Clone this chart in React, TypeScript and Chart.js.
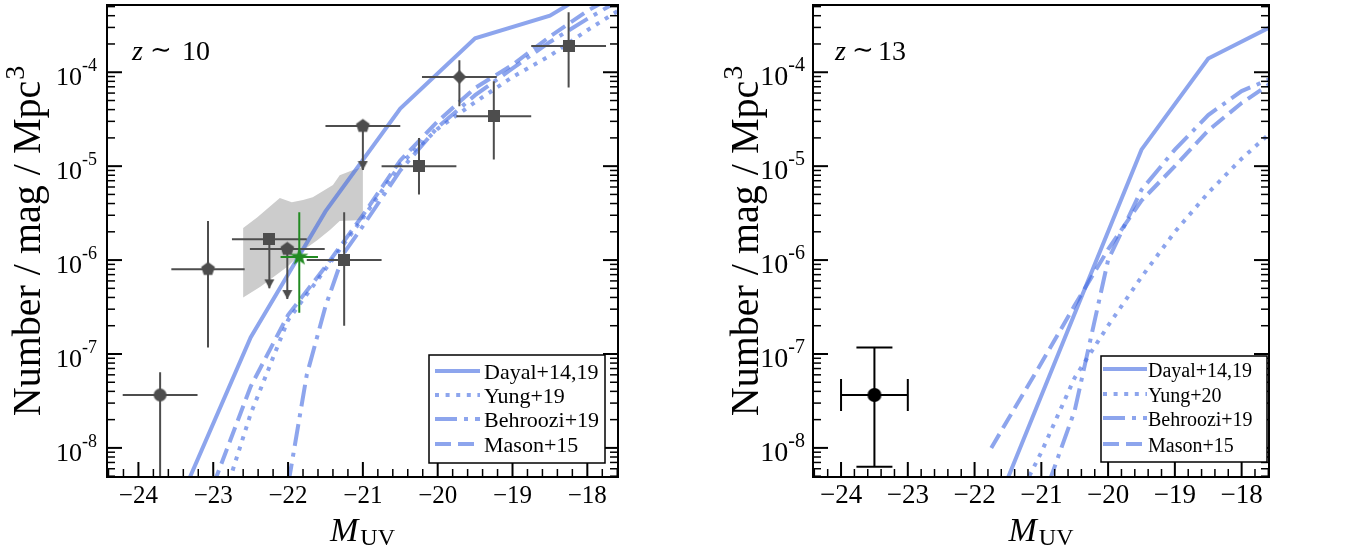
import React, { useEffect, useRef } from "react";
import { Chart, registerables } from "chart.js";
Chart.register(...registerables);

const FONT = '"Liberation Serif", "Times New Roman", Times, "DejaVu Serif", serif';
const BLUE = "rgba(65,105,225,0.6)";
const DARK = "#4d4d4d";
const GREEN = "#228b22";
const BAND = "#cccccc";

const X_MIN = -24.42;
const X_MAX = -17.59;
const Y_MIN = 4.9e-9;
const Y_MAX = 5.2e-4;

const xTickValues = [-24, -23, -22, -21, -20, -19, -18];
const xTickLabels = ["−24", "−23", "−22", "−21", "−20", "−19", "−18"];
const yTickValues = [1e-8, 1e-7, 1e-6, 1e-5, 1e-4];
const yTickExponents = ["-8", "-7", "-6", "-5", "-4"];

const legendZ10 = ["Dayal+14,19", "Yung+19", "Behroozi+19", "Mason+15"];
const legendZ13 = ["Dayal+14,19", "Yung+20", "Behroozi+19", "Mason+15"];
const DASHES: number[][] = [[], [4, 6.6], [22, 7, 4, 7], [16, 7]];

// ---------- z ~ 10 models ----------
const dayalZ10M = [-23.5, -22.5, -21.5, -20.5, -19.5, -18.5, -17.5];
const dayalZ10 = [2.2e-9, 1.5e-7, 3.3e-6, 4.1e-5, 2.3e-4, 4.0e-4, 1.2e-3];
const yungZ10M = [-23.0, -22.5, -22.0, -21.5, -21.0, -20.5, -20.0, -19.5, -19.0, -18.5, -18.0, -17.5];
const yungZ10 = [1.3e-9, 2.3e-8, 2.3e-7, 8.0e-7, 2.8e-6, 1.05e-5, 2.5e-5, 4.8e-5, 8.9e-5, 1.5e-4, 2.8e-4, 5.0e-4];
const behrooziZ10M = [-22.0, -21.75, -21.5, -21.25, -21.0, -20.5, -20.0, -19.5, -19.0, -18.5, -18.0, -17.5];
const behrooziZ10 = [4.0e-9, 6.0e-8, 3.2e-7, 1.2e-6, 2.3e-6, 9.0e-6, 2.6e-5, 5.7e-5, 1.1e-4, 2.1e-4, 3.7e-4, 6.3e-4];
const masonZ10M = [-23.0, -22.5, -22.0, -21.5, -21.0, -20.5, -20.0, -19.5, -19.0, -18.5, -18.0, -17.5];
const masonZ10 = [4.0e-9, 4.5e-8, 2.6e-7, 8.5e-7, 3.0e-6, 1.15e-5, 3.0e-5, 6.8e-5, 1.2e-4, 2.4e-4, 4.5e-4, 7.5e-4];

// ---------- z ~ 10 observations ----------
const bandUpperM = [-22.6, -22.41, -22.11, -21.95, -21.8, -21.67, -21.4, -21.31, -21.13, -21.0];
const bandUpper = [2.19e-6, 2.86e-6, 4.57e-6, 4.14e-6, 4.36e-6, 4.68e-6, 6.3e-6, 8.0e-6, 9.1e-6, 9.8e-6];
const bandLowerM = [-21.0, -21.31, -21.44, -21.61, -21.75, -22.01, -22.37, -22.6];
const bandLower = [2.67e-6, 2.6e-6, 2.09e-6, 1.63e-6, 1.35e-6, 8.5e-7, 5.2e-7, 4.0e-7];

const circM = [-23.71];
const circPhi = [3.66e-8];
const circLo = [1.0e-9];
const circHi = [6.4e-8];
const circDx = [0.5];

const pentM = [-23.07];
const pentPhi = [8.0e-7];
const pentLo = [1.17e-7];
const pentHi = [2.6e-6];
const pentDx = [0.49];

const pentUlM = [-22.01, -21.0];
const pentUlPhi = [1.31e-6, 2.67e-5];
const pentUlTip = [3.85e-7, 9.1e-6];
const pentUlDx = [0.5, 0.5];

const sqM = [-21.25, -20.25, -19.25, -18.25];
const sqPhi = [1.0e-6, 1.0e-5, 3.4e-5, 1.9e-4];
const sqLo = [2.0e-7, 5.0e-6, 1.18e-5, 6.9e-5];
const sqHi = [3.24e-6, 2.0e-5, 8.0e-5, 4.35e-4];
const sqDx = [0.5, 0.5, 0.5, 0.5];

const sqUlM = [-22.25];
const sqUlPhi = [1.67e-6];
const sqUlTip = [5.0e-7];
const sqUlDx = [0.5];

const diaM = [-19.71];
const diaPhi = [8.9e-5];
const diaLo = [4.35e-5];
const diaHi = [1.34e-4];
const diaDx = [0.5];

const starM = [-21.85];
const starPhi = [1.08e-6];
const starLo = [2.75e-7];
const starHi = [3.24e-6];
const starDx = [0.25];

// ---------- z ~ 13 models ----------
const dayalZ13M = [-21.5, -20.5, -19.5, -18.5, -17.5];
const dayalZ13 = [4.8e-9, 2.7e-7, 1.5e-5, 1.4e-4, 3.2e-4];
const yungZ13M = [-21.25, -21.0, -20.5, -20.0, -19.5, -19.0, -18.5, -18.0, -17.5];
const yungZ13 = [4.0e-9, 9.0e-9, 5.6e-8, 2.0e-7, 6.6e-7, 2.0e-6, 5.2e-6, 1.2e-5, 2.5e-5];
const behrooziZ13M = [-20.9, -20.5, -20.0, -19.5, -19.0, -18.5, -18.0, -17.5];
const behrooziZ13 = [4.0e-9, 2.5e-8, 1.0e-6, 5.6e-6, 1.5e-5, 3.5e-5, 6.3e-5, 8.9e-5];
const masonZ13M = [-21.75, -21.0, -20.5, -20.0, -19.5, -19.0, -18.5, -18.0, -17.5];
const masonZ13 = [1.0e-8, 8.0e-8, 3.3e-7, 1.3e-6, 4.3e-6, 1.0e-5, 2.4e-5, 4.7e-5, 8.2e-5];

// ---------- z ~ 13 observation ----------
const obsZ13M = [-23.5];
const obsZ13Phi = [3.66e-8];
const obsZ13Lo = [6.3e-9];
const obsZ13Hi = [1.17e-7];
const obsZ13Dx = [0.5];

type Pt = { x: number; y: number | null };

function pts(xs: number[], ys: number[]): Pt[] {
  return xs.map((x, i) => ({ x, y: ys[i] }));
}
function hSegs(ms: number[], ys: number[], dx: number[]): Pt[] {
  const out: Pt[] = [];
  ms.forEach((m, i) => {
    out.push({ x: m - dx[i], y: ys[i] }, { x: m + dx[i], y: ys[i] }, { x: m, y: null });
  });
  return out;
}
function vSegs(ms: number[], lo: number[], hi: number[]): Pt[] {
  const out: Pt[] = [];
  ms.forEach((m, i) => {
    out.push({ x: m, y: lo[i] }, { x: m, y: hi[i] }, { x: m, y: null });
  });
  return out;
}

function mk(w: number, h: number, draw: (g: CanvasRenderingContext2D) => void) {
  const c = document.createElement("canvas");
  c.width = w;
  c.height = h;
  draw(c.getContext("2d")!);
  return c;
}
function polyImg(R: number, n: number, color: string, inner = 0) {
  const s = Math.ceil(2 * R + 2);
  return mk(s, s, (g) => {
    g.fillStyle = color;
    g.beginPath();
    const cx = s / 2, cy = s / 2;
    const count = inner > 0 ? n * 2 : n;
    for (let k = 0; k < count; k++) {
      const ang = -Math.PI / 2 + (k * 2 * Math.PI) / count;
      const r = inner > 0 && k % 2 === 1 ? R * inner : R;
      const px = cx + r * Math.cos(ang), py = cy + r * Math.sin(ang);
      if (k === 0) g.moveTo(px, py);
      else g.lineTo(px, py);
    }
    g.closePath();
    g.fill();
  });
}
function squareImg(s: number, color: string) {
  return mk(s, s, (g) => {
    g.fillStyle = color;
    g.fillRect(0, 0, s, s);
  });
}
function circleImg(r: number, color: string) {
  const s = Math.ceil(2 * r + 2);
  return mk(s, s, (g) => {
    g.fillStyle = color;
    g.beginPath();
    g.arc(s / 2, s / 2, r, 0, Math.PI * 2);
    g.fill();
  });
}
function arrowImg(color: string) {
  return mk(11, 20, (g) => {
    g.fillStyle = color;
    g.beginPath();
    g.moveTo(0.5, 1);
    g.lineTo(10.5, 1);
    g.lineTo(5.5, 10);
    g.closePath();
    g.fill();
  });
}

function modelLine(xs: number[], ys: number[], dash: number[]) {
  return {
    data: pts(xs, ys),
    showLine: true,
    borderColor: BLUE,
    borderWidth: 4,
    borderDash: dash,
    borderCapStyle: "butt",
    pointRadius: 0,
    fill: false,
    tension: 0,
    order: 50,
    clip: 0,
  };
}
function segs(data: Pt[], color: string, width: number, order: number) {
  return {
    data,
    showLine: true,
    borderColor: color,
    borderWidth: width,
    pointRadius: 0,
    spanGaps: false,
    fill: false,
    order,
    clip: 0,
  };
}
function markers(data: Pt[], img: any, order: number) {
  return {
    data,
    showLine: false,
    pointStyle: img,
    pointRadius: 6,
    order,
    clip: false,
  };
}
function caps(data: Pt[], rotation: number, radius: number, order: number) {
  return {
    data,
    showLine: false,
    pointStyle: "line",
    pointRotation: rotation,
    pointRadius: radius,
    pointBorderWidth: 2,
    pointBorderColor: "#000",
    order,
    clip: false,
  };
}

type Overlay = {
  xTickFont: number;
  yTickFont: number;
  ySupFont: number;
  yTickGap: number;
  yLabelX: number;
  zText: string[];
  zX: number[];
  legendLabels: string[];
  legendBox: [number, number, number, number];
  legendHandle: [number, number];
  legendTextX: number;
  legendRows: number[];
  legendFont: number;
};

function overlayPlugin(o: Overlay) {
  return {
    id: "overlay",
    afterDraw(chart: any) {
      const ctx: CanvasRenderingContext2D = chart.ctx;
      const a = chart.chartArea;
      const xs = chart.scales.x;
      const ys = chart.scales.y;
      ctx.save();
      ctx.strokeStyle = "#000";
      ctx.fillStyle = "#000";
      ctx.setLineDash([]);
      const seg = (x1: number, y1: number, x2: number, y2: number, w: number) => {
        ctx.lineWidth = w;
        ctx.beginPath();
        ctx.moveTo(x1, y1);
        ctx.lineTo(x2, y2);
        ctx.stroke();
      };
      // x ticks (major + minor every 0.2 mag)
      for (let i = Math.ceil(X_MIN * 5); i <= Math.floor(X_MAX * 5); i++) {
        const px = xs.getPixelForValue(i / 5);
        const major = i % 5 === 0;
        seg(px, a.bottom, px, a.bottom - (major ? 15 : 8), major ? 2 : 1.5);
      }
      // y ticks (log, left + right)
      for (let d = -9; d <= -3; d++) {
        for (let k = 1; k <= 9; k++) {
          const v = k * Math.pow(10, d);
          if (v < Y_MIN || v > Y_MAX) continue;
          const py = ys.getPixelForValue(v);
          const L = k === 1 ? 15 : 8;
          const w = k === 1 ? 2 : 1.5;
          seg(a.left, py, a.left + L, py, w);
          seg(a.right, py, a.right - L, py, w);
        }
      }
      // frame
      ctx.lineWidth = 2;
      ctx.strokeRect(a.left, a.top, a.right - a.left, a.bottom - a.top);

      // x tick labels
      ctx.font = `${o.xTickFont}px ${FONT}`;
      ctx.textAlign = "center";
      ctx.textBaseline = "alphabetic";
      xTickValues.forEach((v, i) => {
        ctx.fillText(xTickLabels[i], xs.getPixelForValue(v), 503);
      });
      // y tick labels 10^n
      ctx.textAlign = "left";
      yTickValues.forEach((v, i) => {
        const py = ys.getPixelForValue(v);
        ctx.font = `${o.yTickFont}px ${FONT}`;
        const w1 = ctx.measureText("10").width;
        ctx.font = `${o.ySupFont}px ${FONT}`;
        const w2 = ctx.measureText(yTickExponents[i]).width;
        const x0 = a.left - o.yTickGap - w1 - w2;
        ctx.font = `${o.yTickFont}px ${FONT}`;
        ctx.fillText("10", x0, py + 13);
        ctx.font = `${o.ySupFont}px ${FONT}`;
        ctx.fillText(yTickExponents[i], x0 + w1, py - 1);
      });

      // y axis label
      ctx.save();
      const cy = (a.top + a.bottom) / 2;
      ctx.translate(o.yLabelX, cy);
      ctx.rotate(-Math.PI / 2);
      ctx.font = `40px ${FONT}`;
      const main = "Number / mag / Mpc";
      const wm = ctx.measureText(main).width;
      ctx.font = `28px ${FONT}`;
      const ws = ctx.measureText("3").width;
      const lx = -(wm + ws + 1) / 2;
      ctx.font = `40px ${FONT}`;
      ctx.fillText(main, lx, 0);
      ctx.font = `28px ${FONT}`;
      ctx.fillText("3", lx + wm + 1, -16);
      ctx.restore();

      // x axis label M_UV
      ctx.font = `italic 34px ${FONT}`;
      const wM = ctx.measureText("M").width;
      ctx.font = `24px ${FONT}`;
      const wUV = ctx.measureText("UV").width;
      const cx = (a.left + a.right) / 2;
      const sx = cx - (wM + wUV + 2) / 2;
      ctx.font = `italic 34px ${FONT}`;
      ctx.fillText("M", sx, 541);
      ctx.font = `24px ${FONT}`;
      ctx.fillText("UV", sx + wM + 2, 545);

      // redshift label
      ctx.font = `italic 28px ${FONT}`;
      ctx.fillText(o.zText[0], o.zX[0], 60);
      ctx.font = `26px "DejaVu Serif", ${FONT}`;
      ctx.fillText(o.zText[1], o.zX[1], 58);
      ctx.font = `28px ${FONT}`;
      ctx.fillText(o.zText[2], o.zX[2], 60);

      // legend
      const [bx0, by0, bx1, by1] = o.legendBox;
      ctx.fillStyle = "#fff";
      ctx.fillRect(bx0, by0, bx1 - bx0, by1 - by0);
      ctx.strokeStyle = "#000";
      ctx.lineWidth = 1.5;
      ctx.strokeRect(bx0, by0, bx1 - bx0, by1 - by0);
      o.legendLabels.forEach((lab, i) => {
        const y = o.legendRows[i];
        ctx.strokeStyle = BLUE;
        ctx.lineWidth = 4;
        ctx.lineCap = "butt";
        ctx.setLineDash(DASHES[i]);
        ctx.beginPath();
        ctx.moveTo(o.legendHandle[0], y);
        ctx.lineTo(o.legendHandle[1], y);
        ctx.stroke();
        ctx.setLineDash([]);
        ctx.fillStyle = "#000";
        ctx.font = `${o.legendFont}px ${FONT}`;
        ctx.textAlign = "left";
        ctx.fillText(lab, o.legendTextX, y + 8);
      });
      ctx.restore();
    },
  };
}

function makeChart(canvas: HTMLCanvasElement, padLeft: number, padRight: number, datasets: any[], o: Overlay) {
  return new Chart(canvas, {
    type: "scatter",
    data: { datasets },
    options: {
      animation: false,
      responsive: false,
      maintainAspectRatio: false,
      events: [],
      layout: { autoPadding: false, padding: { left: padLeft, right: padRight, top: 5, bottom: 73 } },
      plugins: { legend: { display: false }, tooltip: { enabled: false } },
      scales: {
        x: { type: "linear", min: X_MIN, max: X_MAX, display: false },
        y: { type: "logarithmic", min: Y_MIN, max: Y_MAX, display: false },
      },
    } as any,
    plugins: [overlayPlugin(o) as any],
  } as any);
}

function leftDatasets() {
  const arrow = arrowImg(DARK);
  const band: Pt[] = [...pts(bandUpperM, bandUpper), ...pts(bandLowerM, bandLower)];
  return [
    {
      data: band,
      showLine: true,
      fill: "shape",
      backgroundColor: BAND,
      borderColor: "rgba(0,0,0,0)",
      borderWidth: 0,
      pointRadius: 0,
      order: 100,
      clip: 0,
    },
    modelLine(dayalZ10M, dayalZ10, DASHES[0]),
    modelLine(yungZ10M, yungZ10, DASHES[1]),
    modelLine(behrooziZ10M, behrooziZ10, DASHES[2]),
    modelLine(masonZ10M, masonZ10, DASHES[3]),
    segs(
      [
        ...hSegs(circM, circPhi, circDx),
        ...hSegs(pentM, pentPhi, pentDx),
        ...hSegs(pentUlM, pentUlPhi, pentUlDx),
        ...hSegs(sqM, sqPhi, sqDx),
        ...hSegs(sqUlM, sqUlPhi, sqUlDx),
        ...hSegs(diaM, diaPhi, diaDx),
        ...vSegs(circM, circLo, circHi),
        ...vSegs(pentM, pentLo, pentHi),
        ...vSegs(pentUlM, pentUlTip, pentUlPhi),
        ...vSegs(sqM, sqLo, sqHi),
        ...vSegs(sqUlM, sqUlTip, sqUlPhi),
        ...vSegs(diaM, diaLo, diaHi),
      ],
      DARK,
      2,
      20
    ),
    markers([...pts(pentUlM, pentUlTip), ...pts(sqUlM, sqUlTip)], arrow, 15),
    markers(pts(circM, circPhi), circleImg(6.5, DARK), 10),
    markers(pts(pentM, pentPhi), polyImg(7.2, 5, DARK), 10),
    markers(pts(pentUlM, pentUlPhi), polyImg(7.2, 5, DARK), 10),
    markers(pts(sqM, sqPhi), squareImg(12, DARK), 10),
    markers(pts(sqUlM, sqUlPhi), squareImg(12, DARK), 10),
    markers(pts(diaM, diaPhi), polyImg(7, 4, DARK), 10),
    segs([...hSegs(starM, starPhi, starDx), ...vSegs(starM, starLo, starHi)], GREEN, 2, 9),
    markers(pts(starM, starPhi), polyImg(9.5, 5, GREEN, 0.4), 8),
  ];
}

function rightDatasets() {
  const capHi: Pt[] = [...pts(obsZ13M, obsZ13Hi), ...pts(obsZ13M, obsZ13Lo)];
  const capSide: Pt[] = [
    ...pts(obsZ13M.map((m, i) => m - obsZ13Dx[i]), obsZ13Phi),
    ...pts(obsZ13M.map((m, i) => m + obsZ13Dx[i]), obsZ13Phi),
  ];
  return [
    modelLine(dayalZ13M, dayalZ13, DASHES[0]),
    modelLine(yungZ13M, yungZ13, DASHES[1]),
    modelLine(behrooziZ13M, behrooziZ13, DASHES[2]),
    modelLine(masonZ13M, masonZ13, DASHES[3]),
    segs([...hSegs(obsZ13M, obsZ13Phi, obsZ13Dx), ...vSegs(obsZ13M, obsZ13Lo, obsZ13Hi)], "#000", 2, 20),
    caps(capHi, 0, 18, 19),
    caps(capSide, 90, 16, 19),
    markers(pts(obsZ13M, obsZ13Phi), circleImg(7, "#000"), 10),
  ];
}

export default function App() {
  const leftRef = useRef<HTMLCanvasElement>(null);
  const rightRef = useRef<HTMLCanvasElement>(null);
  useEffect(() => {
    const left = makeChart(leftRef.current!, 107, 54, leftDatasets(), {
      xTickFont: 25,
      yTickFont: 26,
      ySupFont: 18,
      yTickGap: 10,
      yLabelX: 40,
      zText: ["z", "∼", "10"],
      zX: [132, 150, 182],
      legendLabels: legendZ10,
      legendBox: [429, 355, 605, 463],
      legendHandle: [435, 480],
      legendTextX: 484,
      legendRows: [371, 395, 419, 444],
      legendFont: 22,
    });
    const right = makeChart(rightRef.current!, 141, 76, rightDatasets(), {
      xTickFont: 27,
      yTickFont: 28,
      ySupFont: 20,
      yTickGap: 8,
      yLabelX: 86,
      zText: ["z", "∼", "13"],
      zX: [163, 180, 206],
      legendLabels: legendZ13,
      legendBox: [429, 356, 595, 462],
      legendHandle: [431, 475],
      legendTextX: 476,
      legendRows: [369, 394, 418, 444],
      legendFont: 20,
    });
    return () => {
      left.destroy();
      right.destroy();
    };
  }, []);
  return (
    <div style={{ position: "fixed", left: 0, top: 0, width: 1345, height: 550, background: "#fff" }}>
      <div style={{ position: "absolute", left: 0, top: 0, width: 672, height: 550 }}>
        <canvas ref={leftRef} width={672} height={550} />
      </div>
      <div style={{ position: "absolute", left: 672, top: 0, width: 673, height: 550 }}>
        <canvas ref={rightRef} width={673} height={550} />
      </div>
    </div>
  );
}
